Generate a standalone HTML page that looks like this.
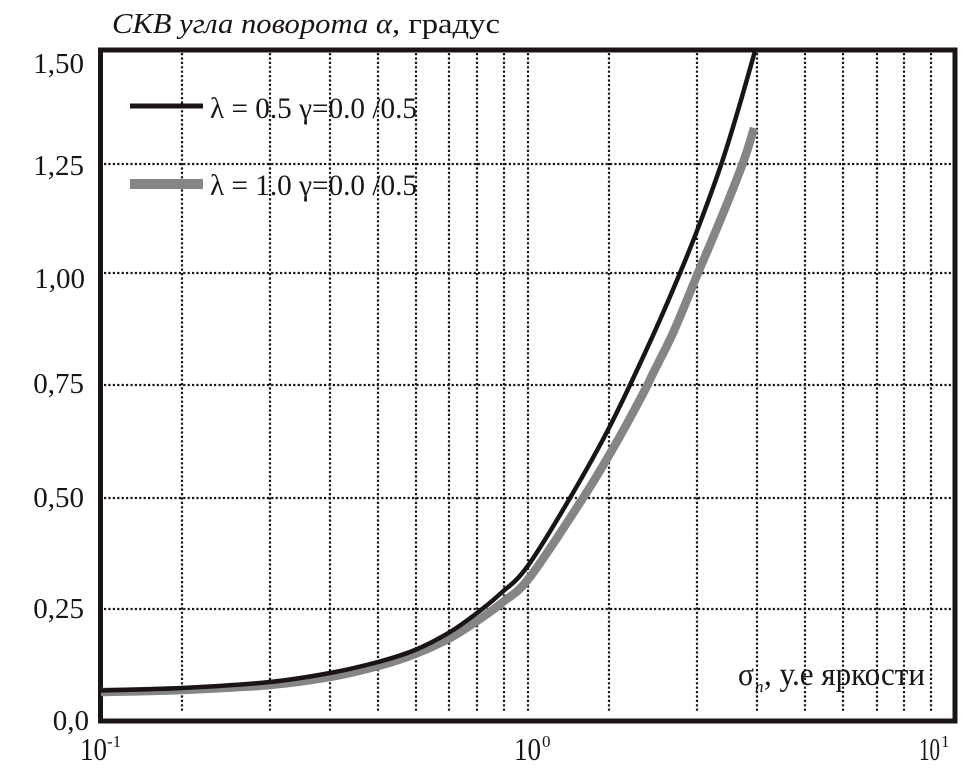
<!DOCTYPE html>
<html>
<head>
<meta charset="utf-8">
<style>
  html,body{margin:0;padding:0;background:#fff;}
  svg{display:block;}
  text{font-family:"Liberation Serif","DejaVu Serif",serif;fill:#1a1414;}
</style>
</head>
<body>
<svg width="980" height="780" viewBox="0 0 980 780" xmlns="http://www.w3.org/2000/svg">
  <rect x="0" y="0" width="980" height="780" fill="#fff"/>

  <!-- vertical dotted grid -->
  <g stroke="#1a1414" stroke-width="2.2" stroke-dasharray="2.2 2.2" fill="none">
    <line x1="182" y1="53" x2="182" y2="711"/>
    <line x1="270" y1="53" x2="270" y2="711"/>
    <line x1="330" y1="53" x2="330" y2="711"/>
    <line x1="378" y1="53" x2="378" y2="711"/>
    <line x1="416" y1="53" x2="416" y2="711"/>
    <line x1="449" y1="53" x2="449" y2="711"/>
    <line x1="477" y1="53" x2="477" y2="711"/>
    <line x1="504" y1="53" x2="504" y2="711"/>
    <line x1="528" y1="53" x2="528" y2="711"/>
    <line x1="609" y1="53" x2="609" y2="711"/>
    <line x1="697" y1="53" x2="697" y2="711"/>
    <line x1="757" y1="53" x2="757" y2="711"/>
    <line x1="805" y1="53" x2="805" y2="711"/>
    <line x1="843" y1="53" x2="843" y2="711"/>
    <line x1="877" y1="53" x2="877" y2="711"/>
    <line x1="904" y1="53" x2="904" y2="711"/>
    <line x1="931" y1="53" x2="931" y2="711"/>
  </g>
  <!-- horizontal dotted grid -->
  <g stroke="#1a1414" stroke-width="2.2" stroke-dasharray="2.2 2.2" fill="none">
    <line x1="104" y1="164" x2="953" y2="164"/>
    <line x1="104" y1="273" x2="953" y2="273"/>
    <line x1="104" y1="385" x2="953" y2="385"/>
    <line x1="104" y1="498" x2="953" y2="498"/>
    <line x1="104" y1="609" x2="953" y2="609"/>
  </g>

  <!-- frame -->
  <rect x="100.5" y="50" width="854.5" height="671" fill="none" stroke="#1a1414" stroke-width="5"/>

  <!-- gray series -->
  <path fill="none" stroke="#858585" stroke-width="8.5" stroke-linejoin="round" stroke-linecap="butt"
    d="M101,692
       C114.5,691.7 153.8,691.2 182,690
       C210.2,688.8 245.3,687.2 270,685
       C294.7,682.8 312,680.2 330,677
       C348,673.8 363.8,669.8 378,666
       C392.2,662.2 403,658.7 415,654
       C427,649.3 439.7,643.5 450,638
       C460.3,632.5 468.2,627 477,621
       C485.8,615 494.2,609.3 503,602
       C511.8,594.7 516.7,594.3 530,577
       C543.3,559.7 568.8,520 583,498
       C597.2,476 604.3,463.7 615,445
       C625.7,426.3 637.3,404.7 647,386
       C655.5,367.3 664.5,351.8 673,333
       C681.5,314.2 689.8,292.5 698,273
       C706.2,253.5 714.3,234.8 722,216
       C729.7,197.2 738.7,174.7 744,160
       C749.3,145.3 752.3,133.3 754,128"/>

  <!-- black series -->
  <path fill="none" stroke="#1a1414" stroke-width="4.5" stroke-linejoin="round" stroke-linecap="butt"
    d="M101,690.5
       C114.5,690.1 153.8,689.4 182,688
       C210.2,686.6 245.3,684.5 270,682
       C294.7,679.5 312,676.3 330,673
       C348,669.7 363.8,665.8 378,662
       C392.2,658.2 403,655 415,650
       C427,645 439.7,638.2 450,632
       C460.3,625.8 468.7,619.3 477,613
       C485.3,606.7 491.7,601.7 500,594
       C508.3,586.3 515.3,583 527,567
       C538.7,551 556.2,521.5 570,498
       C583.8,474.5 596.7,452 610,426
       C623.3,400 638.3,367.5 650,342
       C661.7,316.5 671.7,292.8 680,273
       C688.3,253.2 693,241.5 700,223
       C707,204.5 715.5,181.3 722,162
       C728.5,142.7 733.5,125.5 739,107
       C744.5,88.5 752.3,60.3 755,51"/>

  <!-- legend -->
  <line x1="130" y1="106" x2="203" y2="106" stroke="#1a1414" stroke-width="5"/>
  <line x1="130" y1="184" x2="203" y2="184" stroke="#858585" stroke-width="10"/>
  <text x="210" y="118" font-size="30" textLength="207" lengthAdjust="spacingAndGlyphs">λ = 0.5 γ=0.0 /0.5</text>
  <text x="210" y="195" font-size="30" textLength="207" lengthAdjust="spacingAndGlyphs">λ = 1.0 γ=0.0 /0.5</text>

  <!-- title -->
  <text x="112" y="33" font-size="28" font-style="italic" textLength="280" lengthAdjust="spacingAndGlyphs">СКВ угла поворота α</text>
  <text x="392" y="33" font-size="28" textLength="108" lengthAdjust="spacingAndGlyphs">, градус</text>

  <!-- y tick labels -->
  <g font-size="29" text-anchor="end">
    <text x="84" y="73">1,50</text>
    <text x="84" y="175">1,25</text>
    <text x="85" y="288">1,00</text>
    <text x="84" y="393">0,75</text>
    <text x="84" y="507">0,50</text>
    <text x="84" y="618">0,25</text>
    <text x="89" y="730">0,0</text>
  </g>

  <!-- x tick labels -->
  <g font-size="32">
    <text x="80" y="760" textLength="27" lengthAdjust="spacingAndGlyphs">10</text><text x="107" y="747" font-size="17">-1</text>
    <text x="514" y="760" textLength="27" lengthAdjust="spacingAndGlyphs">10</text><text x="542" y="747" font-size="17">0</text>
    <text x="919" y="760" textLength="21" lengthAdjust="spacingAndGlyphs">10</text><text x="941" y="747" font-size="17">1</text>
  </g>

  <!-- x axis label -->
  <text x="738" y="685" font-size="33" textLength="16" lengthAdjust="spacingAndGlyphs">σ</text>
  <text x="755" y="692" font-size="17" font-style="italic">n</text>
  <text x="764" y="685" font-size="33" textLength="161" lengthAdjust="spacingAndGlyphs">, у.е яркости</text>
</svg>
</body>
</html>
